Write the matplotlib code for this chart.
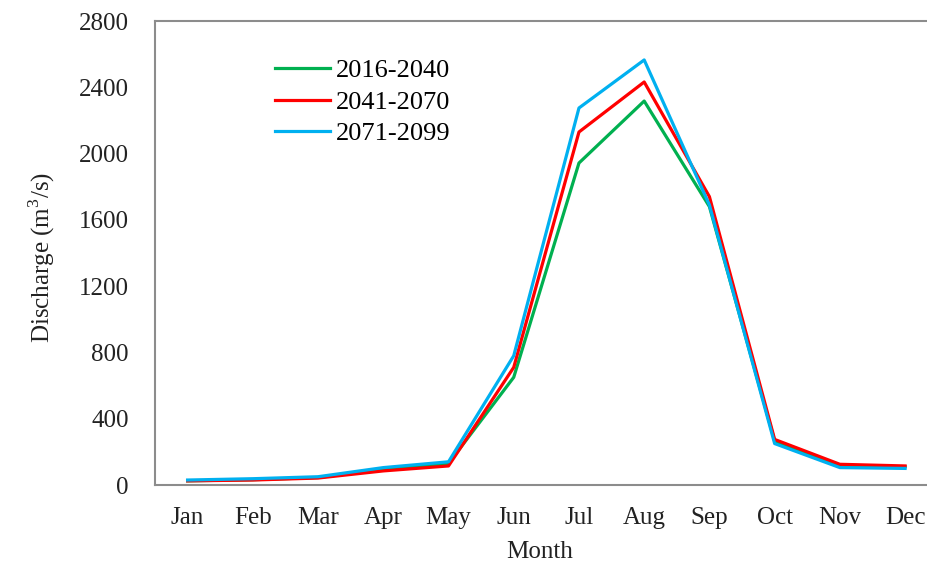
import matplotlib.pyplot as plt

plt.rcParams['font.family'] = ['Liberation Serif', 'DejaVu Serif']
plt.rcParams['mathtext.fontset'] = 'custom'
plt.rcParams['mathtext.rm'] = 'Liberation Serif'

months = ['Jan', 'Feb', 'Mar', 'Apr', 'May', 'Jun',
          'Jul', 'Aug', 'Sep', 'Oct', 'Nov', 'Dec']
q_2016_2040 = [25, 32, 45, 95, 130, 650, 1943, 2317, 1680, 265, 115, 110]
q_2041_2070 = [25, 30, 42, 85, 115, 710, 2130, 2432, 1740, 275, 125, 115]
q_2071_2099 = [30, 38, 50, 105, 140, 780, 2275, 2565, 1690, 250, 105, 100]
yticks = [0, 400, 800, 1200, 1600, 2000, 2400, 2800]

fig = plt.figure(figsize=(9.28, 5.69), dpi=100)
ax = fig.add_axes([155/928, 1-485/569, (937.7-155)/928, (485-21)/569])

x = range(len(months))
ax.plot(x, q_2016_2040, color='#00B050', lw=2.3, label='2016-2040')
ax.plot(x, q_2041_2070, color='#FF0000', lw=2.3, label='2041-2070')
ax.plot(x, q_2071_2099, color='#00B0F0', lw=2.3, label='2071-2099')

ax.set_xlim(-0.5, 11.5)
ax.set_ylim(0, 2800)
ax.set_xticks(list(x))
ax.set_xticklabels(months)
ax.set_yticks(yticks)
ax.tick_params(axis='both', length=0, labelsize=18, colors='#222222')
ax.tick_params(axis='y', pad=19)
ax.tick_params(axis='x', pad=16)
for s in ['left', 'top', 'bottom', 'right']:
    ax.spines[s].set_color('#8c8c8c')
    ax.spines[s].set_linewidth(1.5)

fig.text(42/928, 1-258/569, 'Discharge (m$^3$/s)', rotation=90,
         ha='center', va='center', fontsize=18, color='#222222')
fig.text(540/928, 1-552/569, 'Month', ha='center', va='center',
         fontsize=18, color='#222222')

ax.legend(loc='upper left', bbox_to_anchor=(275/928, 1-59/569),
          bbox_transform=fig.transFigure, frameon=False, fontsize=19,
          handlelength=2.1, handletextpad=0.2, labelspacing=0.3,
          borderpad=0, borderaxespad=0)

fig.savefig('out.png', dpi=100)
